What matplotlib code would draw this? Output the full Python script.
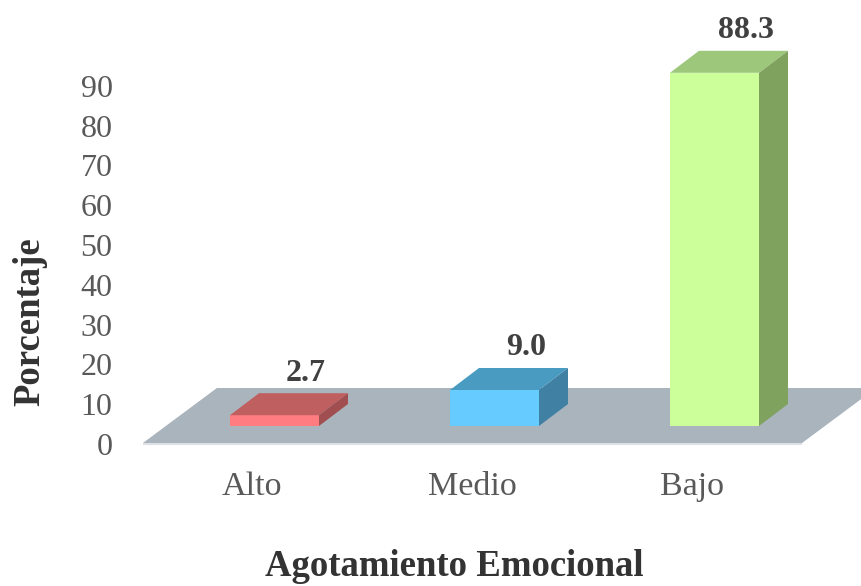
import matplotlib
matplotlib.use("Agg")
import matplotlib.pyplot as plt
from matplotlib.patches import Polygon

categories = ["Alto", "Medio", "Bajo"]
values = [2.7, 9.0, 88.3]
value_labels = ["2.7", "9.0", "88.3"]
ytick_values = [0, 10, 20, 30, 40, 50, 60, 70, 80, 90]

front_colors = ["#FF7C80", "#66CCFF", "#CCFF99"]
top_colors = ["#C05F60", "#4A9BC2", "#9DC77A"]
side_colors = ["#A04E4F", "#3F80A3", "#7FA35F"]
floor_color = "#AAB4BD"

W, H, DPI = 861, 586, 100
fig = plt.figure(figsize=(W / DPI, H / DPI), dpi=DPI)
fig.patch.set_facecolor("white")

# pixel mapping: x data unit = 220 px, category 0 front-center at px 274.5
# y: value 0 at px 426 from top, 4 px per unit
left_px = 125
ax = fig.add_axes([left_px / W, 0, 1 - left_px / W, 1])
ax.set_xlim((left_px - 274.5) / 220, (W - 274.5) / 220)
ax.set_ylim((426 - H) / 4, 426 / 4)
ax.set_facecolor("none")
for s in ax.spines.values():
    s.set_visible(False)

serif = ["Liberation Serif", "DejaVu Serif"]

# depth offsets (data units)
bdx, bdy = 29 / 220, 22 / 4
fdx, fdy = 74 / 220, 55 / 4

# floor
fl_front_y = -4.25
fl_x0, fl_x1 = -0.598, 2.398
floor = Polygon([(fl_x0, fl_front_y), (fl_x1, fl_front_y),
                 (fl_x1 + fdx, fl_front_y + fdy), (fl_x0 + fdx, fl_front_y + fdy)],
                closed=True, facecolor=floor_color, edgecolor="none", zorder=1)
ax.add_patch(floor)
ax.plot([fl_x0, fl_x1], [fl_front_y - 0.3, fl_front_y - 0.3], color="#DCE1E5",
        lw=1.5, zorder=1.5, solid_capstyle="butt")

xs = list(range(len(categories)))
bw = 89 / 220
bars = ax.bar(xs, values, width=bw, bottom=0, color=front_colors,
              edgecolor="none", zorder=3)
for i, (x, v) in enumerate(zip(xs, values)):
    xl, xr = x - bw / 2, x + bw / 2
    top = Polygon([(xl, v), (xr, v), (xr + bdx, v + bdy), (xl + bdx, v + bdy)],
                  closed=True, facecolor=top_colors[i], edgecolor="none", zorder=3)
    side = Polygon([(xr, 0), (xr + bdx, bdy), (xr + bdx, v + bdy), (xr, v)],
                   closed=True, facecolor=side_colors[i], edgecolor="none", zorder=3)
    ax.add_patch(top)
    ax.add_patch(side)
    ax.text(x + bdx + 0.01, v + bdy + 1.4, value_labels[i], ha="center", va="bottom",
            fontsize=23, fontweight="bold", color="#404040", family=serif, zorder=4)

# category labels along floor front
for x, c in zip(xs, categories):
    ax.text(x - 22.5 / 220, (426 - 487) / 4, c, ha="center", va="center",
            fontsize=24.5, color="#595959", family=serif)

# y ticks
ax.set_yticks([0.995 * v - 4.5 for v in ytick_values])
ax.set_yticklabels([str(v) for v in ytick_values])
ax.tick_params(axis="y", length=0, pad=9, labelsize=23, labelcolor="#595959")
for lab in ax.get_yticklabels():
    lab.set_family(serif)
ax.set_xticks([])

fig.text(30 / W, 1 - 322 / H, "Porcentaje", rotation=90, ha="center", va="center",
         fontsize=26.5, fontweight="bold", color="#333333", family=serif)
fig.text(454 / W, 1 - 566 / H, "Agotamiento Emocional", ha="center", va="center",
         fontsize=26.5, fontweight="bold", color="#333333", family=serif)

fig.savefig("out.png", dpi=DPI, facecolor="white")
